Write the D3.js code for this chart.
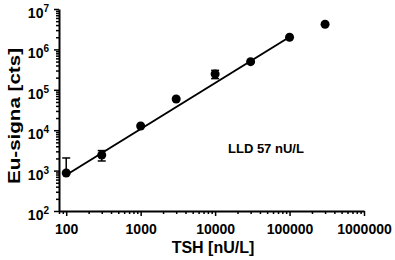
<!DOCTYPE html>
<html>
<head>
<meta charset="utf-8">
<script src="https://cdn.jsdelivr.net/npm/d3@7"></script>
<style>
  body { margin: 0; background: #fff; }
  text { font-family: "Liberation Sans", Arial, sans-serif; font-weight: bold; fill: #000; }
</style>
</head>
<body>
<div id="chart"></div>
<script>
// data (TSH concentration vs Eu signal)
const tsh = [100, 300, 1000, 3000, 10000, 30000, 100000, 300000];
const signal = [873, 2430, 12700, 59200, 246000, 497000, 2000000, 4180000];
const errors = [1180, 700, 0, 0, 57000, 0, 0, 0];

// fitted line endpoints
const fitX = [100, 100000];
const fitY = [778, 2030000];

const xTicks = [100, 1000, 10000, 100000, 1000000];
const yTicks = [2, 3, 4, 5, 6, 7];

const width = 395, height = 260;
const margin = {top: 9, right: 31, bottom: 49, left: 59};

let svg = d3.select("#chart").append("svg")
    .attr("width", width)
    .attr("height", height);

let x = d3.scaleLog()
    .domain([80, 1000000])
    .range([margin.left, width - margin.right]);

let y = d3.scaleLog()
    .domain([100, 10000000])
    .range([height - margin.bottom, margin.top]);

// minor tick values
let xMinor = [];
for (let e = 1; e < 6; e++) {
    for (let m = 2; m < 10; m++) {
        let v = m * Math.pow(10, e);
        if (v >= 80) xMinor.push(v);
    }
}
let yMinor = [];
for (let e = 2; e < 7; e++) {
    for (let m = 2; m < 10; m++) yMinor.push(m * Math.pow(10, e));
}

// x axis
let xAxis = svg.append("g")
    .attr("transform", `translate(0, ${height - margin.bottom})`);
xAxis.append("g")
    .call(d3.axisBottom(x).tickValues(xMinor).tickSize(3).tickFormat(""))
    .call(g => g.select(".domain").remove())
    .selectAll("line").attr("stroke-width", 1.5);
xAxis.append("g")
    .call(d3.axisBottom(x).tickValues(xTicks).tickSize(5).tickSizeOuter(0).tickFormat(d3.format("d")))
    .call(g => g.select(".domain").attr("stroke-width", 2))
    .call(g => g.selectAll("line").attr("stroke-width", 1.5))
    .call(g => g.selectAll("text").attr("font-size", 14).attr("dy", "1.1em"));

// y axis
let yAxis = svg.append("g")
    .attr("transform", `translate(${margin.left}, 0)`);
yAxis.append("g")
    .call(d3.axisLeft(y).tickValues(yMinor).tickSize(3).tickFormat(""))
    .call(g => g.select(".domain").remove())
    .selectAll("line").attr("stroke-width", 1.5);
yAxis.append("g")
    .call(d3.axisLeft(y).tickValues(yTicks.map(d => Math.pow(10, d))).tickSize(5).tickSizeOuter(0).tickFormat(""))
    .call(g => g.select(".domain").attr("stroke-width", 2))
    .call(g => g.selectAll("line").attr("stroke-width", 1.5));

// y tick labels as 10 with superscript
let yLab = yAxis.selectAll(".ylab")
    .data(yTicks)
    .enter().append("text")
    .attr("class", "ylab")
    .attr("x", -10)
    .attr("y", d => y(Math.pow(10, d)) + 9)
    .attr("text-anchor", "end");
yLab.append("tspan").attr("font-size", 14).text("10");
yLab.append("tspan").attr("font-size", 10).attr("dy", -6).text(d => d);

// axis titles
svg.append("text")
    .attr("x", 213)
    .attr("y", 253)
    .attr("text-anchor", "middle")
    .attr("font-size", 16)
    .text("TSH [nU/L]");

svg.append("text")
    .attr("transform", `translate(20, 116) rotate(-90)`)
    .attr("text-anchor", "middle")
    .attr("font-size", 17)
    .attr("textLength", 136)
    .attr("lengthAdjust", "spacingAndGlyphs")
    .text("Eu-signa [cts]");

// fit line
svg.append("line")
    .attr("x1", x(fitX[0])).attr("y1", y(fitY[0]))
    .attr("x2", x(fitX[1])).attr("y2", y(fitY[1]))
    .attr("stroke", "#000")
    .attr("stroke-width", 2);

// error bars (lower end dropped when it would go below zero)
let pts = tsh.map((d, i) => ({x: d, y: signal[i], e: errors[i]})).filter(d => d.e > 0);
let eb = svg.selectAll(".err").data(pts).enter().append("g").attr("class", "err");
eb.append("line")
    .attr("x1", d => x(d.x)).attr("x2", d => x(d.x))
    .attr("y1", d => y(d.y + d.e))
    .attr("y2", d => d.y - d.e > 0 ? y(d.y - d.e) : y(d.y))
    .attr("stroke", "#000").attr("stroke-width", 1.5);
eb.append("line")
    .attr("x1", d => x(d.x) - 4).attr("x2", d => x(d.x) + 4)
    .attr("y1", d => y(d.y + d.e)).attr("y2", d => y(d.y + d.e))
    .attr("stroke", "#000").attr("stroke-width", 1.5);
eb.filter(d => d.y - d.e > 0).append("line")
    .attr("x1", d => x(d.x) - 4).attr("x2", d => x(d.x) + 4)
    .attr("y1", d => y(d.y - d.e)).attr("y2", d => y(d.y - d.e))
    .attr("stroke", "#000").attr("stroke-width", 1.5);

// points
svg.selectAll(".pt")
    .data(tsh)
    .enter().append("circle")
    .attr("class", "pt")
    .attr("cx", d => x(d))
    .attr("cy", (d, i) => y(signal[i]))
    .attr("r", 4.5)
    .attr("fill", "#000");

// annotation
svg.append("text")
    .attr("x", 228)
    .attr("y", 153)
    .attr("font-size", 13)
    .text("LLD 57 nU/L");
</script>
</body>
</html>
